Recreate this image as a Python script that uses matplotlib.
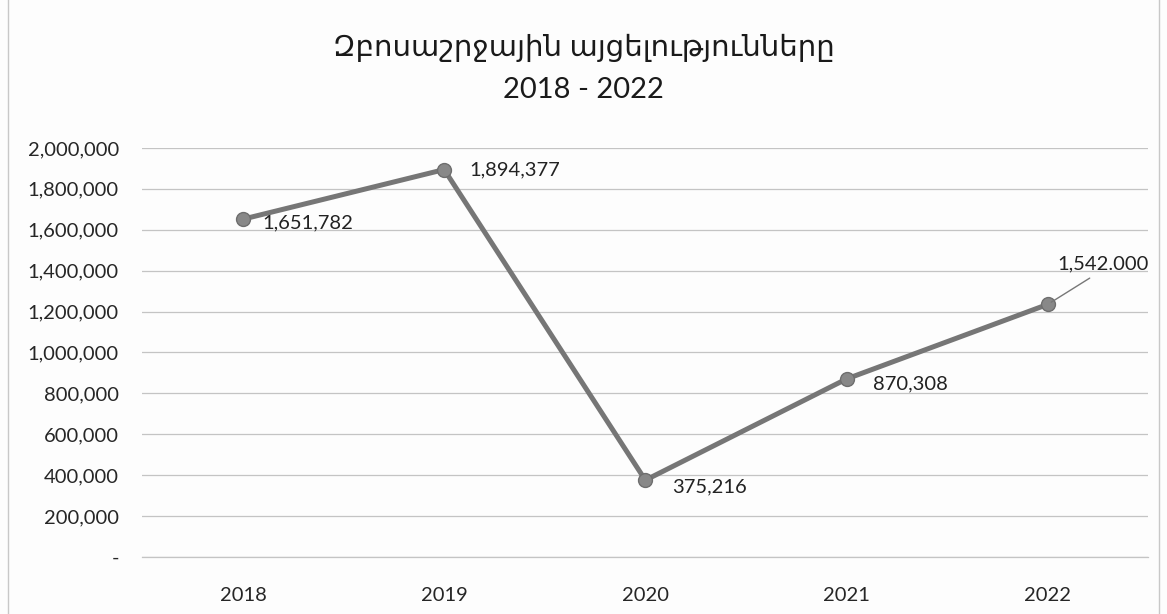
import matplotlib.pyplot as plt
from matplotlib.ticker import FuncFormatter
from matplotlib.patches import Rectangle

# data
years = ['2018', '2019', '2020', '2021', '2022']
visits = [1651782, 1894377, 375216, 870308, 1235000]
point_labels = ['1,651,782', '1,894,377', '375,216', '870,308', '1,542.000']
# label offsets in pixels (dx, dy) relative to each point
label_offsets = [(19, -4), (25, 0), (27, -7), (26, -5), (10, 32)]

plt.rcParams['font.family'] = ['Lato', 'DejaVu Sans']

fig = plt.figure(figsize=(11.67, 6.14), dpi=100)
fig.patch.set_facecolor('#fdfdfd')
ax = fig.add_axes([0.122, 0.093, 0.862, 0.666])
ax.set_facecolor('#fdfdfd')

# outer chart border
fig.patches.append(Rectangle((0.007, -0.01), 0.986, 1.2, transform=fig.transFigure,
                             fill=False, edgecolor='#c8c8c8', linewidth=1))

x = range(len(years))
line_color = '#767676'
ax.plot(x, visits, color=line_color, linewidth=3.6, marker='o', markersize=10,
        markerfacecolor='#888888', markeredgecolor='#6e6e6e', zorder=3)

for i, (lab, (dx, dy)) in enumerate(zip(point_labels, label_offsets)):
    if i == len(years) - 1:
        ax.annotate(lab, (i, visits[i]), xytext=(dx, dy), textcoords='offset pixels',
                    fontsize=14.5, color='#222222', ha='left', va='bottom',
                    annotation_clip=False,
                    arrowprops=dict(arrowstyle='-', color='#777777', lw=1,
                                    relpos=(0.45, 0), shrinkA=4, shrinkB=3))
    else:
        ax.annotate(lab, (i, visits[i]), xytext=(dx, dy), textcoords='offset pixels',
                    fontsize=14.5, color='#222222', ha='left', va='center')

ax.set_xlim(-0.5, len(years) - 0.5)
ax.set_ylim(0, 2000000)
ax.set_yticks(range(0, 2000001, 200000))
ax.yaxis.set_major_formatter(FuncFormatter(lambda v, p: '-' if v == 0 else f'{int(v):,}'))
ax.set_xticks(list(x))
ax.set_xticklabels(years)
ax.tick_params(axis='both', length=0, labelsize=14.5, labelcolor='#262626')
ax.tick_params(axis='x', pad=22)
ax.tick_params(axis='y', pad=17)

ax.grid(axis='y', color='#c4c4c4', linewidth=0.9)
ax.axhline(0, color='#c4c4c4', linewidth=0.9, clip_on=False, zorder=0)
ax.set_axisbelow(True)
for s in ax.spines.values():
    s.set_visible(False)

fig.text(0.5, 0.922, 'Զբոսաշրջային այցելությունները', ha='center', va='center',
         fontsize=21, color='#1a1a1a')
fig.text(0.5, 0.853, '2018 - 2022', ha='center', va='center',
         fontsize=21, color='#1a1a1a')

fig.savefig('out.png', dpi=100, facecolor=fig.get_facecolor())
